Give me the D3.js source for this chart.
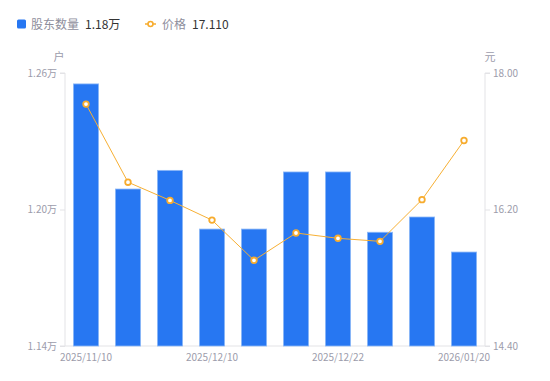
<!DOCTYPE html>
<html><head><meta charset="utf-8">
<script src="https://cdn.jsdelivr.net/npm/d3@7"></script>
<style>
body{margin:0;background:#fff;font-family:"Noto Sans CJK SC","Noto Sans",sans-serif;}
</style></head>
<body><svg id="c" width="550" height="381"></svg>
<script>
const dates = ["2025/11/10","2025/11/20","2025/11/28","2025/12/10","2025/12/15","2025/12/19","2025/12/22","2025/12/31","2026/01/09","2026/01/20"];
const holders = [1.2552,1.2090,1.2172,1.1914,1.1914,1.2165,1.2165,1.1900,1.1967,1.1813];
const prices = [17.59,16.56,16.32,16.06,15.53,15.89,15.82,15.78,16.33,17.11];
const leftTicks = [1.14,1.20,1.26];
const rightTicks = [14.40,16.20,18.00];
const shownDates = ["2025/11/10","2025/12/10","2025/12/22","2026/01/20"];

const svg = d3.select("#c");
const m = {l:65, r:485, t:73, b:346};
const x = d3.scaleBand().domain(dates).range([m.l, m.r]).paddingInner(0.4).paddingOuter(0.2);
const yL = d3.scaleLinear().domain([1.14,1.26]).range([m.b, m.t]);
const yR = d3.scaleLinear().domain([14.40,18.00]).range([m.b, m.t]);
const grey = "#9c9cab", axisC = "#e3e3e6";

// axes
const gl = svg.append("g").attr("transform",`translate(${m.l},0)`)
  .call(d3.axisLeft(yL).tickValues(leftTicks).tickSize(5).tickPadding(3).tickFormat(d=>d.toFixed(2)+"万"));
const gr = svg.append("g").attr("transform",`translate(${m.r},0)`)
  .call(d3.axisRight(yR).tickValues(rightTicks).tickSize(5).tickPadding(3).tickFormat(d=>d.toFixed(2)));
const gb = svg.append("g").attr("transform",`translate(0,${m.b})`)
  .call(d3.axisBottom(x).tickValues(shownDates).tickSize(0).tickPadding(8));
[gl,gr,gb].forEach(g=>{
  g.select(".domain").attr("stroke",axisC);
  g.selectAll(".tick line").attr("stroke",axisC);
  g.selectAll("text").attr("fill",grey).style("font-size","10px").style("font-family","'Noto Sans CJK SC','Noto Sans',sans-serif");
});
gl.select(".domain").attr("d",`M-5,${m.t}H0V${m.b}H-5`);
gr.select(".domain").attr("d",`M5,${m.t}H0V${m.b}H5`);
gb.select(".domain").attr("d",`M${m.l},0H${m.r}`);

svg.append("text").attr("x",59).attr("y",61).attr("text-anchor","middle").attr("fill",grey).style("font-size","11px").text("户");
svg.append("text").attr("x",490).attr("y",61).attr("text-anchor","middle").attr("fill",grey).style("font-size","11px").text("元");

// bars
svg.append("g").selectAll("rect").data(dates).join("rect")
  .attr("x",d=>x(d)).attr("width",x.bandwidth())
  .attr("y",(d,i)=>yL(holders[i])).attr("height",(d,i)=>m.b-yL(holders[i]))
  .attr("fill","#2777f2").attr("stroke","#8db8f7").attr("stroke-width",0.8);

// line
const cx = d=>x(d)+x.bandwidth()/2;
const line = d3.line().x((d,i)=>cx(dates[i])).y(d=>yR(d));
svg.append("path").datum(prices).attr("d",line).attr("fill","none").attr("stroke","#f7b034").attr("stroke-width",1);
svg.append("g").selectAll("circle").data(prices).join("circle")
  .attr("cx",(d,i)=>cx(dates[i])).attr("cy",d=>yR(d)).attr("r",2.8)
  .attr("fill","#fff").attr("stroke","#f7ac2e").attr("stroke-width",1.8);

// legend
const lg = svg.append("g").style("font-size","12px");
lg.append("rect").attr("x",17).attr("y",19.5).attr("width",9).attr("height",9).attr("rx",1.5).attr("fill","#2777f2");
lg.append("text").attr("x",31).attr("y",28.5).attr("fill","#8e8e9c").text("股东数量");
lg.append("text").attr("x",85).attr("y",28.5).attr("fill","#333").text("1.18万");
lg.append("line").attr("x1",145).attr("x2",156).attr("y1",24).attr("y2",24).attr("stroke","#f7ac2e").attr("stroke-width",1.5);
lg.append("circle").attr("cx",150.5).attr("cy",24).attr("r",2.5).attr("fill","#fff").attr("stroke","#f7ac2e").attr("stroke-width",1.6);
lg.append("text").attr("x",162).attr("y",28.5).attr("fill","#8e8e9c").text("价格");
lg.append("text").attr("x",192).attr("y",28.5).attr("fill","#333").text("17.110");
</script></body></html>
